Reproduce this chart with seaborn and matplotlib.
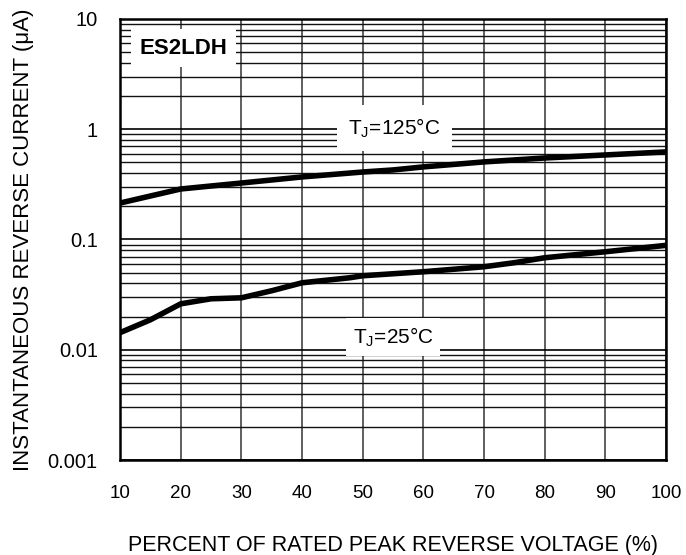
import matplotlib
matplotlib.use("Agg")
import matplotlib.pyplot as plt
import seaborn as sns
import pandas as pd
import numpy as np
from matplotlib.ticker import FixedLocator, LogLocator, NullFormatter

sns.set_style("white")
plt.rcParams['font.family'] = ['Liberation Sans', 'DejaVu Sans']
plt.rcParams['text.color'] = 'black'
plt.rcParams['axes.labelcolor'] = 'black'
plt.rcParams['xtick.color'] = 'black'
plt.rcParams['ytick.color'] = 'black'

pct_125 = [10, 20, 30, 40, 50, 55, 60, 70, 80, 90, 100]
ir_125 = [0.214, 0.287, 0.325, 0.369, 0.409, 0.427, 0.455, 0.505, 0.548, 0.584, 0.622]

pct_25 = [10, 15, 20, 25, 30, 35, 40, 47.9, 50, 60, 70, 75, 80, 90, 100]
ir_25 = [0.0143, 0.0187, 0.0261, 0.0290, 0.0296, 0.0343, 0.0405, 0.0450,
         0.0469, 0.0510, 0.0566, 0.0616, 0.0683, 0.0774, 0.0885]

x_ticks = [10, 20, 30, 40, 50, 60, 70, 80, 90, 100]
y_ticks = [0.001, 0.01, 0.1, 1, 10]
y_labels = ["0.001", "0.01", "0.1", "1", "10"]

df = pd.DataFrame({
    "pct": pct_125 + pct_25,
    "ir": ir_125 + ir_25,
    "tj": ["125"] * len(pct_125) + ["25"] * len(pct_25),
})

fig = plt.figure(figsize=(6.86, 5.55), dpi=100)
ax = fig.add_axes([0.175, 0.171, 0.796, 0.795])
ax.set_yscale("log")
sns.lineplot(data=df, x="pct", y="ir", units="tj", estimator=None, color="black",
             linewidth=4, ax=ax, zorder=5, legend=False,
             solid_capstyle="butt", solid_joinstyle="round")

ax.set_xlim(10, 100)
ax.set_ylim(0.001, 10)
ax.xaxis.set_major_locator(FixedLocator(x_ticks))
ax.set_xticklabels([str(v) for v in x_ticks])
ax.yaxis.set_major_locator(FixedLocator(y_ticks))
ax.set_yticklabels(y_labels)
ax.yaxis.set_minor_locator(LogLocator(base=10, subs=np.arange(2, 10)))
ax.yaxis.set_minor_formatter(NullFormatter())
ax.grid(True, which="major", axis="x", color="#444444", linewidth=1.2)
ax.grid(True, which="major", axis="y", color="black", linewidth=1.2)
ax.grid(True, which="minor", axis="y", color="#111111", linewidth=1.0)
ax.tick_params(axis="x", which="both", length=0, labelsize=13.5, pad=18)
ax.tick_params(axis="y", which="both", length=0, labelsize=14.5, pad=16)
for s in ax.spines.values():
    s.set_color("black")
    s.set_linewidth(1.8)

ax.set_xlabel("PERCENT OF RATED PEAK REVERSE VOLTAGE (%)", fontsize=15.5, labelpad=24)
ax.set_ylabel("INSTANTANEOUS REVERSE CURRENT (\u03bcA)", fontsize=16, labelpad=10)

ax.text(20.5, 5.4, "ES2LDH", fontsize=16, fontweight="bold", ha="center", va="center",
        bbox=dict(facecolor="white", edgecolor="none", pad=6), zorder=6)
ax.text(55.2, 1.03, "T$_\\mathregular{J}$=125\u00b0C", fontsize=15, ha="center", va="center",
        bbox=dict(facecolor="white", edgecolor="none", pad=8), zorder=6)
ax.text(55.0, 0.0131, "T$_\\mathregular{J}$=25\u00b0C", fontsize=15, ha="center", va="center",
        bbox=dict(facecolor="white", edgecolor="none", pad=5), zorder=6)

fig.savefig("out.png", dpi=100)
